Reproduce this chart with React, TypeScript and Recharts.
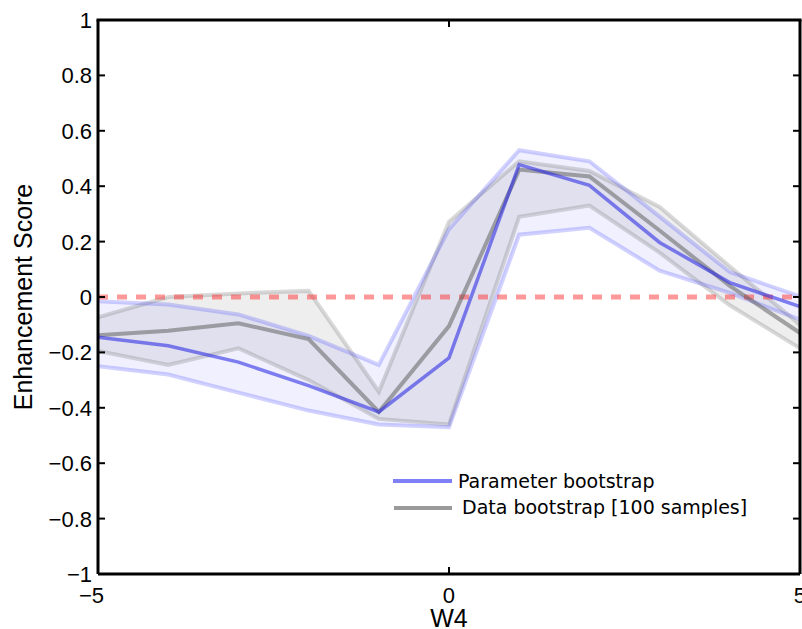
import React from 'react';
import { ComposedChart, Area, Line, XAxis, YAxis, ReferenceLine, Legend } from 'recharts';

const xValues = [-5, -4, -3, -2, -1, 0, 1, 2, 3, 4, 5];
const paramMean = [-0.145, -0.176, -0.235, -0.32, -0.415, -0.22, 0.478, 0.403, 0.197, 0.052, -0.035];
const paramLow = [-0.25, -0.28, -0.345, -0.41, -0.46, -0.47, 0.225, 0.25, 0.095, 0.015, -0.082];
const paramHigh = [-0.015, -0.027, -0.063, -0.14, -0.245, 0.245, 0.53, 0.49, 0.29, 0.09, 0.002];
const dataMean = [-0.138, -0.122, -0.095, -0.152, -0.415, -0.105, 0.46, 0.435, 0.24, 0.04, -0.13];
const dataLow = [-0.195, -0.245, -0.185, -0.3, -0.44, -0.46, 0.29, 0.33, 0.16, -0.03, -0.185];
const dataHigh = [-0.073, 0.0, 0.013, 0.022, -0.342, 0.272, 0.49, 0.455, 0.325, 0.11, -0.1];

const xTicks = [-5, 0, 5];
const yTicks = [1, 0.8, 0.6, 0.4, 0.2, 0, -0.2, -0.4, -0.6, -0.8, -1];
const legendLabels = ['Parameter bootstrap', 'Data bootstrap [100 samples]'];
const xLabel = 'W4';
const yLabel = 'Enhancement Score';

const CHART_W = 802;
const CHART_H = 629;
const RIGHT_AXIS_W = 2;

const rows = xValues.map((x, i) => ({
  x,
  pMean: paramMean[i],
  pLow: paramLow[i],
  pHigh: paramHigh[i],
  pBand: [paramLow[i], paramHigh[i]],
  dMean: dataMean[i],
  dLow: dataLow[i],
  dHigh: dataHigh[i],
  dBand: [dataLow[i], dataHigh[i]],
}));

const FONT = '"Liberation Sans", Arial, Helvetica, sans-serif';
const fmt = (v: number) => (v < 0 ? '\u2212' + Math.abs(v) : String(v));

const LeftTick = (props: any) => {
  const { x, y, payload } = props;
  return (
    <g>
      <line x1={x + 6} x2={x + 13} y1={y} y2={y} stroke="#000" strokeWidth={2} />
      <text x={x} y={y} dy="0.36em" textAnchor="end" fontSize={22} fontFamily={FONT} fill="#000">
        {fmt(payload.value)}
      </text>
    </g>
  );
};

const RightTick = (props: any) => {
  const { x, y } = props;
  return <line x1={x - 7} x2={x} y1={y} y2={y} stroke="#000" strokeWidth={2} />;
};

const BottomTick = (props: any) => {
  const { x, y, payload } = props;
  const v = payload.value as number;
  const digits = String(Math.abs(v));
  const half = digits.length * 0.556 * 22 / 2;
  return (
    <g>
      <line x1={x} x2={x} y1={y} y2={y - 7} stroke="#000" strokeWidth={2} />
      <line x1={x} x2={x} y1={y - 554} y2={y - 547} stroke="#000" strokeWidth={2} />
      <text x={x + half} y={y + 29} textAnchor="end" fontSize={22} fontFamily={FONT} fill="#000">
        {fmt(v)}
      </text>
    </g>
  );
};

const LegendBox = () => (
  <svg width={380} height={56} style={{ display: 'block' }}>
    <line x1={8} x2={67} y1={19} y2={19} stroke="#8080f6" strokeWidth={4} />
    <text x={73} y={19} dy="0.35em" fontSize={19} fontFamily='"DejaVu Sans", sans-serif' fill="#000">
      {legendLabels[0]}
    </text>
    <line x1={9} x2={67} y1={46} y2={46} stroke="#9a9a9a" strokeWidth={4} />
    <text x={77} y={45} dy="0.35em" fontSize={19} fontFamily='"DejaVu Sans", sans-serif' fill="#000">
      {legendLabels[1]}
    </text>
  </svg>
);

const YLabel = (props: any) => {
  const vb = props.viewBox || { x: 0, y: 0, width: 0, height: 0 };
  const cx = vb.x + 23;
  const cy = vb.y + vb.height / 2;
  const plotLeft = vb.x + vb.width;
  const plotRight = CHART_W - RIGHT_AXIS_W;
  return (
    <g>
      <rect x={plotLeft - 1.5} y={vb.y - 1.5} width={plotRight - plotLeft + 3} height={3} fill="#000" />
      <text
        x={cx}
        y={cy}
        dy="0.35em"
        textAnchor="middle"
        transform={`rotate(-90, ${cx}, ${cy})`}
        fontSize={25}
        fontFamily={FONT}
        fill="#000"
      >
        {yLabel}
      </text>
    </g>
  );
};

const XLabel = (props: any) => {
  const vb = props.viewBox || { x: 0, y: 0, width: 0, height: 0 };
  const cx = vb.x + vb.width / 2;
  return (
    <text x={cx} y={vb.y + 53} textAnchor="middle" fontSize={25} fontFamily={FONT} fill="#000">
      {xLabel}
    </text>
  );
};

export default function App() {
  return (
    <div style={{ position: 'absolute', left: 0, top: 0, background: '#fff' }}>
      <ComposedChart
        width={CHART_W}
        height={CHART_H}
        data={rows}
        margin={{ top: 20, right: 0, bottom: 0, left: 0 }}
      >
        <XAxis
          xAxisId="b"
          dataKey="x"
          type="number"
          domain={[-5, 5]}
          ticks={xTicks}
          interval={0}
          allowDataOverflow
          height={55}
          tickSize={0}
          tickMargin={0}
          tickLine={false}
          axisLine={{ stroke: '#000', strokeWidth: 3 }}
          tick={<BottomTick />}
          label={<XLabel />}
        />
        <YAxis
          yAxisId="l"
          type="number"
          domain={[-1, 1]}
          ticks={yTicks}
          interval={0}
          allowDataOverflow
          width={98}
          tickSize={0}
          tickMargin={6}
          tickLine={false}
          axisLine={{ stroke: '#000', strokeWidth: 3 }}
          tick={<LeftTick />}
          label={<YLabel />}
        />
        <YAxis
          yAxisId="r"
          orientation="right"
          type="number"
          domain={[-1, 1]}
          ticks={yTicks}
          interval={0}
          allowDataOverflow
          width={RIGHT_AXIS_W}
          tickSize={0}
          tickMargin={0}
          tickLine={false}
          axisLine={{ stroke: '#000', strokeWidth: 3 }}
          tick={<RightTick />}
        />

        <Area
          xAxisId="b"
          yAxisId="l"
          dataKey="dBand"
          type="linear"
          stroke="none"
          fill="#8a8a8a"
          fillOpacity={0.14}
          isAnimationActive={false}
          legendType="none"
        />
        <Area
          xAxisId="b"
          yAxisId="l"
          dataKey="pBand"
          type="linear"
          stroke="none"
          fill="#3a3aff"
          fillOpacity={0.08}
          isAnimationActive={false}
          legendType="none"
        />
        <Line xAxisId="b" yAxisId="l" dataKey="dHigh" type="linear" stroke="#808080" strokeOpacity={0.3} strokeWidth={4} dot={false} isAnimationActive={false} />
        <Line xAxisId="b" yAxisId="l" dataKey="dLow" type="linear" stroke="#808080" strokeOpacity={0.3} strokeWidth={4} dot={false} isAnimationActive={false} />
        <Line xAxisId="b" yAxisId="l" dataKey="pHigh" type="linear" stroke="#3030ff" strokeOpacity={0.22} strokeWidth={4} dot={false} isAnimationActive={false} />
        <Line xAxisId="b" yAxisId="l" dataKey="pLow" type="linear" stroke="#3030ff" strokeOpacity={0.22} strokeWidth={4} dot={false} isAnimationActive={false} />
        <ReferenceLine
          xAxisId="b"
          yAxisId="l"
          y={0}
          stroke="#ff2a2a"
          strokeOpacity={0.48}
          strokeWidth={5}
          strokeDasharray="10 9"
        />
        <Line xAxisId="b" yAxisId="l" dataKey="dMean" type="linear" stroke="#555" strokeOpacity={0.5} strokeWidth={4} dot={false} isAnimationActive={false} />
        <Line xAxisId="b" yAxisId="l" dataKey="pMean" type="linear" stroke="#2a2ae6" strokeOpacity={0.58} strokeWidth={3.5} dot={false} isAnimationActive={false} />

        <Legend
          layout="horizontal"
          verticalAlign="middle"
          align="center"
          content={() => <LegendBox />}
          wrapperStyle={{ position: 'absolute', left: 385, top: 462, width: 380, height: 56 }}
        />
      </ComposedChart>
    </div>
  );
}
